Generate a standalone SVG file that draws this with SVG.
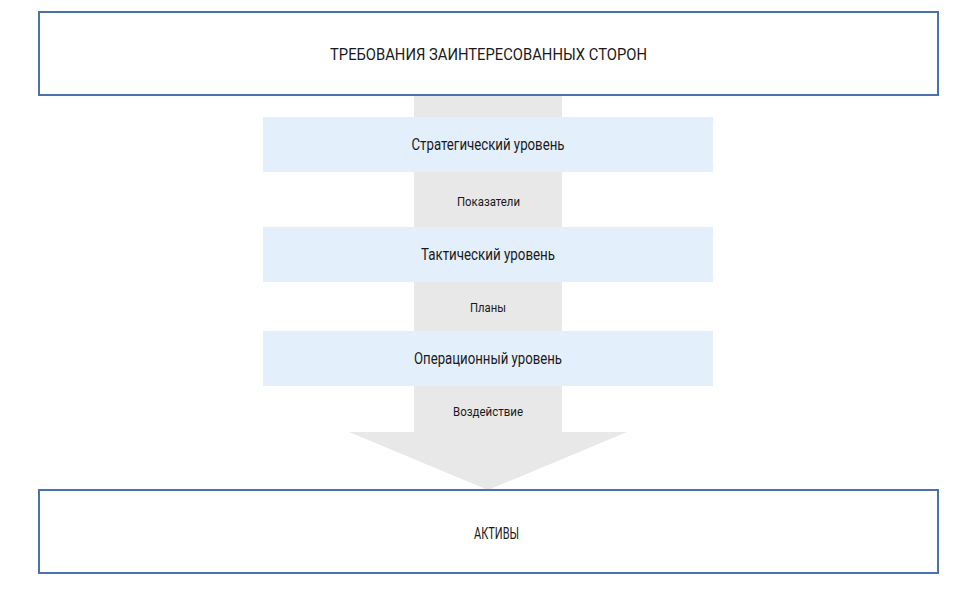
<svg xmlns="http://www.w3.org/2000/svg" width="972" height="591" viewBox="0 0 972 591">
<style>
.box{fill:#ffffff;stroke:#4a72b0;stroke-width:2}
.band{fill:#e3effb}
.arrow{fill:#e8e8e8}
.t{font-family:Roboto,"Liberation Sans",sans-serif;fill:#1a1a1a;text-anchor:middle}
.big{font-size:17px}
.mid{font-size:16px}
.small{font-size:13px}
</style>
<rect width="972" height="591" fill="#ffffff"/>
<g id="connectors">
<path class="arrow" d="M414 95 H562 V432 H627 L488 490 L349 432 H414 Z"/>
</g>
<g id="top">
<rect class="box" x="39" y="12" width="899" height="83"/>
<text class="t big" x="488.5" y="60" textLength="317" lengthAdjust="spacingAndGlyphs">ТРЕБОВАНИЯ ЗАИНТЕРЕСОВАННЫХ СТОРОН</text>
</g>
<g id="strategic">
<rect class="band" x="263" y="117" width="450" height="55"/>
<text class="t mid" x="488" y="150" textLength="153" lengthAdjust="spacingAndGlyphs">Стратегический уровень</text>
</g>
<g id="label-indicators">
<text class="t small" x="488.5" y="205.5" textLength="63" lengthAdjust="spacingAndGlyphs">Показатели</text>
</g>
<g id="tactical">
<rect class="band" x="263" y="227" width="450" height="55"/>
<text class="t mid" x="488" y="260" textLength="134" lengthAdjust="spacingAndGlyphs">Тактический уровень</text>
</g>
<g id="label-plans">
<text class="t small" x="488" y="311.5" textLength="36" lengthAdjust="spacingAndGlyphs">Планы</text>
</g>
<g id="operational">
<rect class="band" x="263" y="331" width="450" height="55"/>
<text class="t mid" x="488" y="364" textLength="148" lengthAdjust="spacingAndGlyphs">Операционный уровень</text>
</g>
<g id="label-impact">
<text class="t small" x="488" y="416" textLength="70" lengthAdjust="spacingAndGlyphs">Воздействие</text>
</g>
<g id="assets">
<rect class="box" x="39" y="490" width="899" height="83"/>
<text class="t big" x="496.5" y="539" textLength="45" lengthAdjust="spacingAndGlyphs">АКТИВЫ</text>
</g>
</svg>
